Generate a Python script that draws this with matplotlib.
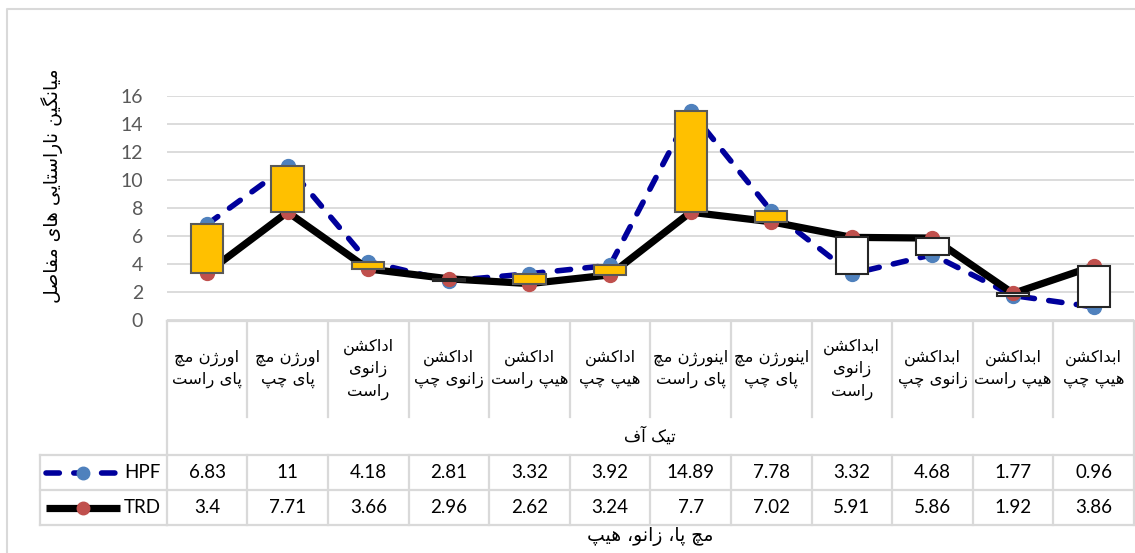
import matplotlib
matplotlib.use("Agg")
import matplotlib.pyplot as plt
from matplotlib.transforms import blended_transform_factory
from matplotlib.lines import Line2D

# ---------------- data ----------------
categories = [
    "اورژن مچ\nپای راست", "اورژن مچ\nپای چپ", "اداکشن\nزانوی\nراست",
    "اداکشن\nزانوی چپ", "اداکشن\nهیپ راست", "اداکشن\nهیپ چپ",
    "اینورژن مچ\nپای راست", "اینورژن مچ\nپای چپ", "ابداکشن\nزانوی\nراست",
    "ابداکشن\nزانوی چپ", "ابداکشن\nهیپ راست", "ابداکشن\nهیپ چپ",
]
group_label = "تیک آف"
hpf = [6.83, 11, 4.18, 2.81, 3.32, 3.92, 14.89, 7.78, 3.32, 4.68, 1.77, 0.96]
trd = [3.4, 7.71, 3.66, 2.96, 2.62, 3.24, 7.7, 7.02, 5.91, 5.86, 1.92, 3.86]
series_names = ["HPF", "TRD"]
y_title = "میانگین ناراستایی های مفاصل"
x_title = "مچ پا، زانو، هیپ"
y_ticks = [0, 2, 4, 6, 8, 10, 12, 14, 16]

# ---------------- simple Persian shaping (presentation forms + RTL) ----------------
FORMS = {
    '\u0622': ('\uFE81', '\uFE82', None, None),
    '\u0627': ('\uFE8D', '\uFE8E', None, None),
    '\u0628': ('\uFE8F', '\uFE90', '\uFE91', '\uFE92'),
    '\u067E': ('\uFB56', '\uFB57', '\uFB58', '\uFB59'),
    '\u062A': ('\uFE95', '\uFE96', '\uFE97', '\uFE98'),
    '\u0686': ('\uFB7A', '\uFB7B', '\uFB7C', '\uFB7D'),
    '\u062F': ('\uFEA9', '\uFEAA', None, None),
    '\u0631': ('\uFEAD', '\uFEAE', None, None),
    '\u0632': ('\uFEAF', '\uFEB0', None, None),
    '\u0698': ('\uFB8A', '\uFB8B', None, None),
    '\u0633': ('\uFEB1', '\uFEB2', '\uFEB3', '\uFEB4'),
    '\u0634': ('\uFEB5', '\uFEB6', '\uFEB7', '\uFEB8'),
    '\u0635': ('\uFEB9', '\uFEBA', '\uFEBB', '\uFEBC'),
    '\u0641': ('\uFED1', '\uFED2', '\uFED3', '\uFED4'),
    '\u06A9': ('\uFB8E', '\uFB8F', '\uFB90', '\uFB91'),
    '\u06AF': ('\uFB92', '\uFB93', '\uFB94', '\uFB95'),
    '\u0644': ('\uFEDD', '\uFEDE', '\uFEDF', '\uFEE0'),
    '\u0645': ('\uFEE1', '\uFEE2', '\uFEE3', '\uFEE4'),
    '\u0646': ('\uFEE5', '\uFEE6', '\uFEE7', '\uFEE8'),
    '\u0647': ('\uFEE9', '\uFEEA', '\uFEEB', '\uFEEC'),
    '\u0648': ('\uFEED', '\uFEEE', None, None),
    '\u06CC': ('\uFBFC', '\uFBFD', '\uFBFE', '\uFBFF'),
}


def shape_line(line):
    out = []
    n = len(line)
    for i, c in enumerate(line):
        f = FORMS.get(c)
        if f is None:
            out.append(c)
            continue
        prev = line[i - 1] if i > 0 else None
        nxt = line[i + 1] if i + 1 < n else None
        jp = prev in FORMS and FORMS[prev][2] is not None
        jn = f[2] is not None and nxt in FORMS
        if jp and jn:
            out.append(f[3])
        elif jp:
            out.append(f[1])
        elif jn:
            out.append(f[2])
        else:
            out.append(f[0])
    return "".join(reversed(out))


def fa(text):
    return "\n".join(shape_line(l) for l in text.split("\n"))


# ---------------- figure ----------------
W, H = 1135, 553
fig = plt.figure(figsize=(W / 100, H / 100), dpi=100)
fig.patch.set_facecolor("white")

AR_FONT = ["DejaVu Sans"]
NUM_FONT = ["Lato", "DejaVu Sans"]
GRID = "#D9D9D9"

x_left, x_right = 166.7, 1134.0
y_zero, y_top = 320.4, 95.6
ax = fig.add_axes([x_left / W, 1 - y_zero / H, (x_right - x_left) / W, (y_zero - y_top) / H], zorder=2)
ax.patch.set_visible(False)

ov = fig.add_axes([0, 0, 1, 1], zorder=1)
ov.set_xlim(0, W)
ov.set_ylim(H, 0)
ov.axis("off")

n = len(categories)
xs = list(range(n))
ax.set_xlim(-0.5, n - 0.5)
ax.set_ylim(0, 16)
ax.set_yticks(y_ticks)
ax.set_xticks([])
for s in ax.spines.values():
    s.set_visible(False)
ax.tick_params(axis="y", length=0, pad=17, labelsize=14, labelcolor="#595959")
for lbl in ax.get_yticklabels():
    lbl.set_fontfamily(NUM_FONT)
ax.yaxis.grid(True, color=GRID, linewidth=1.3)
ax.set_axisbelow(True)

# lines
hpf_style = dict(color="#00009C", linewidth=4.0, dashes=(2.4, 2.6), dash_capstyle="round",
                 marker="o", markersize=10, markerfacecolor="#4F81BD", markeredgecolor="#4F81BD")
trd_style = dict(color="black", linewidth=5.2, solid_capstyle="butt",
                 marker="o", markersize=10, markerfacecolor="#C0504D", markeredgecolor="#C0504D")
ax.plot(xs, hpf, zorder=3, clip_on=False, **hpf_style)
ax.plot(xs, trd, zorder=4, clip_on=False, **trd_style)

# up/down bars
bottoms = [min(a, b) for a, b in zip(hpf, trd)]
heights = [abs(a - b) for a, b in zip(hpf, trd)]
fills = ["#FFC000" if a > b else "white" for a, b in zip(hpf, trd)]
edges = ["#595959" if a > b else "#262626" for a, b in zip(hpf, trd)]
ax.bar(xs, heights, bottom=bottoms, width=0.4, color=fills, edgecolor=edges,
       linewidth=1.5, zorder=5)

# ---------------- data table below ----------------
tr = blended_transform_factory(ax.transData, ov.transData)
bounds = [i - 0.5 for i in range(n + 1)]
y_tab_top, y_cat_bot, y_r1, y_r2, y_r3 = 321, 417, 455, 490, 525
lw_t = 1.6

def vline(xd, y0, y1):
    ov.add_line(Line2D([xd, xd], [y0, y1], transform=tr, color=GRID, linewidth=lw_t, clip_on=False))

def hline_data(y):
    ov.add_line(Line2D([bounds[0], bounds[-1]], [y, y], transform=tr, color=GRID, linewidth=lw_t, clip_on=False))

hline_data(y_tab_top)
for b in bounds[1:-1]:
    vline(b, y_tab_top, y_cat_bot)
    vline(b, y_r1, y_r3)
vline(bounds[0], y_tab_top, y_r3)
vline(bounds[-1], y_tab_top, y_r3)
for y in (y_r1, y_r2, y_r3):
    ov.plot([40, x_left], [y, y], color=GRID, linewidth=lw_t, clip_on=False)
    hline_data(y)
ov.plot([40, 40], [y_r1, y_r3], color=GRID, linewidth=lw_t, clip_on=False)

for i, c in enumerate(categories):
    ov.text(i, 369, fa(c), transform=tr, ha="center", va="center", fontsize=11.8,
            family=AR_FONT, linespacing=1.5, color="black")
ov.text((bounds[0] + bounds[-1]) / 2, 436, fa(group_label), transform=tr, ha="center",
        va="center", fontsize=12, family=AR_FONT, color="black")

for row_y, vals in ((472.5, hpf), (507.5, trd)):
    for i, v in enumerate(vals):
        ov.text(i, row_y, f"{v:g}", transform=tr, ha="center", va="center", fontsize=13.5,
                family=NUM_FONT, color="black")

# legend keys in table
for row_y, name, style in ((472.5, series_names[0], hpf_style), (507.5, series_names[1], trd_style)):
    st = dict(style)
    st.pop("marker"); st.pop("markersize"); st.pop("markerfacecolor"); st.pop("markeredgecolor")
    ov.plot([46, 120], [row_y, row_y], clip_on=False, **st)
    ov.plot([83], [row_y], marker="o", markersize=style["markersize"] * 0.9, linestyle="none",
            markerfacecolor=style["markerfacecolor"], markeredgecolor=style["markeredgecolor"],
            clip_on=False)
    ov.text(124, row_y, name, ha="left", va="center", fontsize=13.5, family=NUM_FONT, color="black")

# titles
ov.text(52, 186, fa(y_title), rotation=90, ha="center", va="center", fontsize=13.5,
        family=AR_FONT, color="black")
ov.text((bounds[0] + bounds[-1]) / 2, 537, fa(x_title), transform=tr, ha="center", va="center",
        fontsize=13.5, family=AR_FONT, color="black")

# outer chart frame
ov.plot([7, 7, W + 5], [H + 5, 9, 9], color=GRID, linewidth=1.5, clip_on=False)

fig.savefig("out.png", dpi=100, facecolor="white")
